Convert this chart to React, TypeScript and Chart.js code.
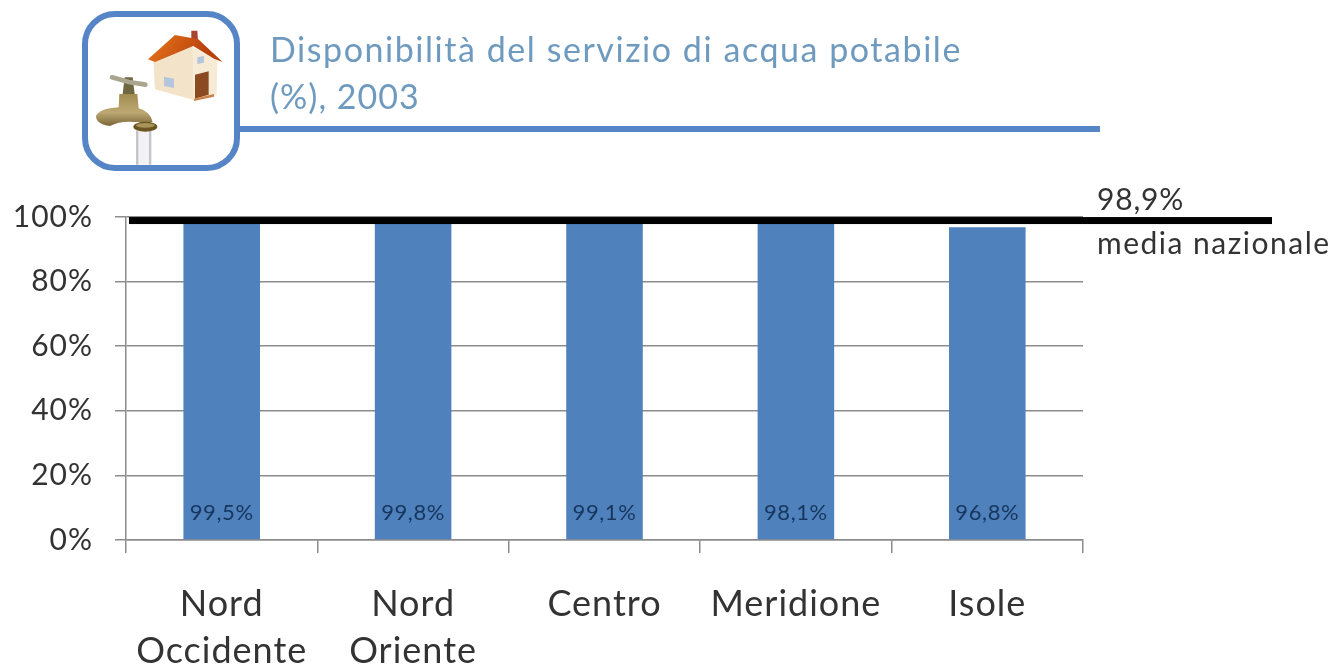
import React, { useEffect, useRef } from "react";
import { Chart, registerables } from "chart.js";

Chart.register(...registerables);

const categories = [["Nord", "Occidente"], ["Nord", "Oriente"], "Centro", "Meridione", "Isole"];
const values = [99.5, 99.8, 99.1, 98.1, 96.8];
const valueLabels = ["99,5%", "99,8%", "99,1%", "98,1%", "96,8%"];
const nationalMean = 98.9;
const nationalMeanLabel = "98,9%";
const nationalMeanCaption = "media nazionale";
const titleLines = ["Disponibilità del servizio di acqua potabile", "(%), 2003"];

const FONT = "Lato";
const BLUE = "#4f81bd";
const FRAME = "#5585c6";

function poly(ctx: CanvasRenderingContext2D, pts: number[][], fill: string | CanvasGradient) {
  ctx.beginPath();
  pts.forEach(([x, y], i) => (i ? ctx.lineTo(x, y) : ctx.moveTo(x, y)));
  ctx.closePath();
  ctx.fillStyle = fill;
  ctx.fill();
}

function drawIcon(ctx: CanvasRenderingContext2D) {
  ctx.save();
  ctx.translate(60, 0);
  ctx.scale(1 / 3, 1 / 3);
  // house
  poly(ctx, [[394, 92], [412, 92], [414, 122], [394, 122]], "#a8452f");
  poly(ctx, [[280, 182], [398, 140], [402, 300], [285, 268]], "#f3e3c8");
  poly(ctx, [[398, 140], [472, 182], [470, 285], [402, 300]], "#f7ebd6");
  const roof = ctx.createLinearGradient(265, 105, 420, 190);
  roof.addColorStop(0, "#e8761c");
  roof.addColorStop(1, "#b8420c");
  poly(ctx, [[264, 178], [345, 105], [415, 118], [488, 186], [462, 176], [400, 138], [285, 186]], roof);
  poly(ctx, [[405, 224], [446, 214], [446, 284], [405, 296]], "#8c4a22");
  poly(ctx, [[402, 296], [462, 282], [462, 290], [402, 303]], "#c9824a");
  poly(ctx, [[312, 230], [342, 236], [342, 264], [312, 258]], "#b4c6dc");
  poly(ctx, [[412, 172], [432, 168], [432, 188], [412, 192]], "#b4c6dc");
  // water
  ctx.fillStyle = "#c4c4cc";
  ctx.fillRect(228, 392, 8, 102);
  ctx.fillRect(266, 392, 8, 102);
  ctx.fillStyle = "#f2f2f5";
  ctx.fillRect(236, 392, 30, 102);
  // tap
  const brass = ctx.createLinearGradient(0, 280, 0, 395);
  brass.addColorStop(0, "#a08c50");
  brass.addColorStop(0.5, "#bda873");
  brass.addColorStop(1, "#5f4c1e");
  ctx.beginPath();
  ctx.moveTo(178, 282);
  ctx.lineTo(232, 282);
  ctx.lineTo(236, 325);
  ctx.quadraticCurveTo(272, 335, 278, 366);
  ctx.lineTo(224, 366);
  ctx.quadraticCurveTo(180, 362, 150, 378);
  ctx.quadraticCurveTo(108, 372, 108, 348);
  ctx.quadraticCurveTo(118, 326, 176, 322);
  ctx.closePath();
  ctx.fillStyle = brass;
  ctx.fill();
  ctx.beginPath();
  ctx.ellipse(256, 380, 36, 15, 0, 0, Math.PI * 2);
  ctx.fillStyle = "#6b5520";
  ctx.fill();
  ctx.beginPath();
  ctx.ellipse(256, 376, 28, 7, 0, 0, Math.PI * 2);
  ctx.fillStyle = "#a8935a";
  ctx.fill();
  poly(ctx, [[194, 232], [218, 232], [224, 282], [188, 282]], "#6f6742");
  ctx.lineCap = "round";
  ctx.strokeStyle = "#a9a58e";
  ctx.lineWidth = 14;
  ctx.beginPath();
  ctx.moveTo(156, 232);
  ctx.lineTo(206, 246);
  ctx.lineTo(256, 254);
  ctx.stroke();
  ctx.restore();
}

const decorations = {
  id: "decorations",
  beforeDraw(chart: any) {
    const { ctx } = chart;
    ctx.save();
    ctx.fillStyle = "#ffffff";
    ctx.fillRect(0, 0, chart.width, chart.height);
    ctx.strokeStyle = FRAME;
    ctx.lineWidth = 6;
    ctx.beginPath();
    ctx.moveTo(238, 129);
    ctx.lineTo(1100, 129);
    ctx.stroke();
    ctx.beginPath();
    ctx.roundRect(85, 14, 152, 154, 30);
    ctx.stroke();
    drawIcon(ctx);
    ctx.fillStyle = "#6f9abf";
    ctx.font = `34px ${FONT}`;
    ctx.textAlign = "left";
    ctx.textBaseline = "alphabetic";
    (ctx as any).letterSpacing = "1.55px";
    ctx.fillText(titleLines[0], 270, 62);
    (ctx as any).letterSpacing = "1px";
    ctx.fillText(titleLines[1], 270, 109);
    ctx.restore();
    // spacing shared by the tick labels drawn after this hook
    (ctx as any).letterSpacing = "1px";
  },
  afterDatasetsDraw(chart: any) {
    const { ctx, scales } = chart;
    const y = scales.y;
    ctx.save();
    ctx.textBaseline = "middle";
    ctx.textAlign = "center";
    ctx.font = `22px ${FONT}`;
    (ctx as any).letterSpacing = "0.6px";
    ctx.fillStyle = "#17365d";
    chart.getDatasetMeta(0).data.forEach((bar: any, i: number) => {
      ctx.fillText(valueLabels[i], bar.x, y.getPixelForValue(8.3));
    });
    const my = y.getPixelForValue(nationalMean);
    ctx.fillStyle = "#000000";
    ctx.fillRect(129, my - 3.5, 1143, 7);
    ctx.fillStyle = "#333333";
    ctx.font = `30px ${FONT}`;
    ctx.textAlign = "left";
    ctx.textBaseline = "alphabetic";
    (ctx as any).letterSpacing = "0.8px";
    ctx.fillText(nationalMeanLabel, 1097, 210);
    (ctx as any).letterSpacing = "1.5px";
    ctx.fillText(nationalMeanCaption, 1097, 254);
    ctx.restore();
  },
};

export default function App() {
  const ref = useRef<HTMLCanvasElement>(null);
  useEffect(() => {
    const chart = new Chart(ref.current!, {
      type: "bar",
      data: {
        labels: categories as any,
        datasets: [{ data: values, backgroundColor: BLUE, barPercentage: 0.8, categoryPercentage: 0.5 }],
      },
      plugins: [decorations],
      options: {
        animation: false,
        responsive: false,
        layout: { padding: { left: 0, right: 252, top: 217, bottom: 0 } },
        plugins: { legend: { display: false }, tooltip: { enabled: false } },
        scales: {
          x: {
            afterFit: (s: any) => { s.height = 129; },
            grid: { color: "#8c8c8c", lineWidth: 1.5, drawOnChartArea: false, tickLength: 13 },
            border: { color: "#8c8c8c", width: 1.5 },
            ticks: {
              color: "#333333",
              maxRotation: 0,
              autoSkip: false,
              padding: 27,
              font: { family: FONT, size: 36, lineHeight: 1.33 },
            },
          },
          y: {
            min: 0,
            max: 100,
            afterFit: (s: any) => { s.width = 126; },
            grid: { color: "#8c8c8c", lineWidth: 1.5, tickLength: 11 },
            border: { color: "#8c8c8c", width: 1.5 },
            ticks: {
              stepSize: 20,
              color: "#333333",
              padding: 22,
              font: { family: FONT, size: 30 },
              callback: (v: any) => `${v}%`,
            },
          },
        },
      },
    });
    return () => chart.destroy();
  }, []);
  return (
    <canvas
      ref={ref}
      width={1335}
      height={669}
      style={{ position: "absolute", left: 0, top: 0, width: 1335, height: 669 }}
    />
  );
}
